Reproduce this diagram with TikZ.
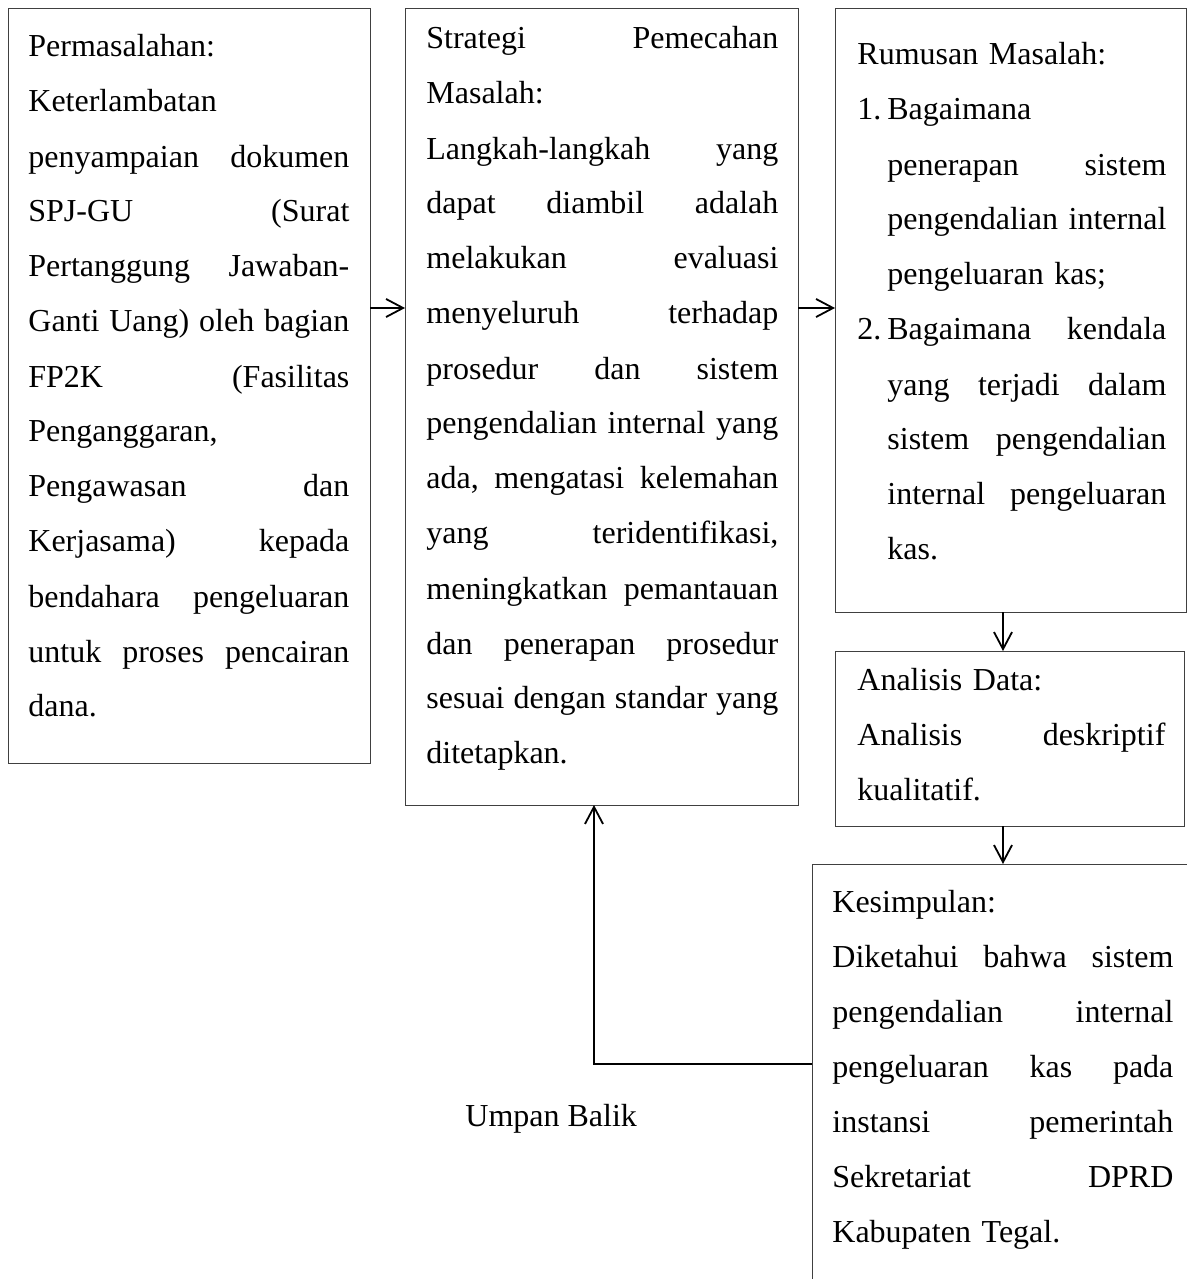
\documentclass[tikz,border=0pt]{standalone}
\usepackage{fontspec}
\setmainfont{Liberation Serif}
\usetikzlibrary{arrows.meta}
\frenchspacing
\newcommand\jl[1]{\hbox to\linewidth{\spaceskip=0.25em plus 1fil\relax #1}}
\newcommand\nl[1]{\hbox{#1}}
\newcommand\il[1]{\hbox to\linewidth{\hskip15pt\spaceskip=0.25em plus 1fil\relax #1}}
\newcommand\inl[1]{\hbox{\hskip15pt #1}}
\newcommand\labj[2]{\hbox to\linewidth{\hbox to15pt{#1\hfil}\spaceskip=0.25em plus 1fil\relax #2}}
\newcommand\labn[2]{\hbox{\hbox to15pt{#1\hfil}#2}}
\begin{document}
\begin{tikzpicture}[x=0.5pt,y=-0.5pt,
  box/.style={draw=black!75,line width=0.5pt,anchor=north west,inner sep=0pt,outer sep=0pt},
  txt/.style={anchor=base west,inner sep=0pt,text width=#1,font=\fontsize{16}{27.5}\selectfont},
  lbl/.style={anchor=base west,inner sep=0pt,font=\fontsize{16}{27.5}\selectfont},
  arr/.style={-{Straight Barb[length=8.5pt,width=9pt]},line width=0.9pt,black}]
\useasboundingbox (0,0) rectangle (1187,1279);
\clip (0,0) rectangle (1187,1279);

% boxes
\node[box,minimum width=181pt,minimum height=377pt] (b1) at (8,9) {};
\node[box,minimum width=196.5pt,minimum height=398pt] (b2) at (405,9) {};
\node[box,minimum width=175.5pt,minimum height=301.5pt] (b3) at (835,9) {};
\node[box,minimum width=174.5pt,minimum height=87.5pt] (b4) at (835,651) {};
\node[box,minimum width=195pt,minimum height=220pt] (b5) at (812,864) {};

% texts
\node[txt=160.5pt] (t1) at (28,57) {%
\nl{Permasalahan:}
\nl{Keterlambatan}
\jl{penyampaian dokumen}
\jl{SPJ-GU (Surat}
\jl{Pertanggung Jawaban-}
\jl{Ganti Uang) oleh bagian}
\jl{FP2K (Fasilitas}
\nl{Penganggaran,}
\jl{Pengawasan dan}
\jl{Kerjasama) kepada}
\jl{bendahara pengeluaran}
\jl{untuk proses pencairan}
\nl{dana.}};

\node[txt=176pt] (t2) at (426,49) {%
\jl{Strategi Pemecahan}
\nl{Masalah:}
\jl{Langkah-langkah yang}
\jl{dapat diambil adalah}
\jl{melakukan evaluasi}
\jl{menyeluruh terhadap}
\jl{prosedur dan sistem}
\jl{pengendalian internal yang}
\jl{ada, mengatasi kelemahan}
\jl{yang teridentifikasi,}
\jl{meningkatkan pemantauan}
\jl{dan penerapan prosedur}
\jl{sesuai dengan standar yang}
\nl{ditetapkan.}};

\node[txt=154.5pt] (t3) at (857,65) {%
\nl{Rumusan Masalah:}
\labn{1.}{Bagaimana}
\il{penerapan sistem}
\il{pengendalian internal}
\inl{pengeluaran kas;}
\labj{2.}{Bagaimana kendala}
\il{yang terjadi dalam}
\il{sistem pengendalian}
\il{internal pengeluaran}
\inl{kas.}};

\node[txt=154pt] (t4) at (857,690) {%
\nl{Analisis Data:}
\jl{Analisis deskriptif}
\nl{kualitatif.}};

\node[txt=170.5pt] (t5) at (832,912) {%
\nl{Kesimpulan:}
\jl{Diketahui bahwa sistem}
\jl{pengendalian internal}
\jl{pengeluaran kas pada}
\jl{instansi pemerintah}
\jl{Sekretariat DPRD}
\nl{Kabupaten Tegal.}};

\node[lbl] (fbl) at (465,1126) {Umpan Balik};

% connectors
\coordinate (h1) at (0,308);
\coordinate (vx) at (1003,0);
\coordinate (fb) at (594,1064);
\draw[arr] (b1.east |- h1) -- (b2.west |- h1);
\draw[arr] (b2.east |- h1) -- (b3.west |- h1);
\draw[arr] (b3.south -| vx) -- (b4.north -| vx);
\draw[arr] (b4.south -| vx) -- (b5.north -| vx);
\draw[arr] (b5.west |- fb) -- (fb) -- (b2.south -| fb);
\end{tikzpicture}
\end{document}
